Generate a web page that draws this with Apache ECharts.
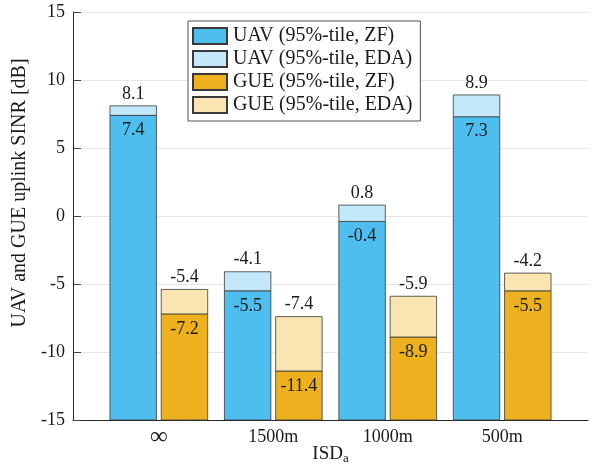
<!DOCTYPE html>
<html>
<head>
<meta charset="utf-8">
<script src="https://cdn.jsdelivr.net/npm/echarts@6/dist/echarts.min.js"></script>
<style>html,body{margin:0;padding:0;background:#fff}#c{width:593px;height:470px}</style>
</head>
<body>
<div id="c"></div>
<script>
const categories = ['\u221e', '1500m', '1000m', '500m'];
const uavZF  = [7.4, -5.5, -0.4, 7.3];
const uavEDA = [8.1, -4.1, 0.8, 8.9];
const gueZF  = [-7.2, -11.4, -8.9, -5.5];
const gueEDA = [-5.4, -7.4, -5.9, -4.2];
const yTicks = [-15, -10, -5, 0, 5, 10, 15];
const seriesNames = ['UAV (95%-tile, ZF)', 'UAV (95%-tile, EDA)', 'GUE (95%-tile, ZF)', 'GUE (95%-tile, EDA)'];

const FONT = "'Liberation Serif', 'Times New Roman', serif";
const yMin = yTicks[0], yMax = yTicks[yTicks.length - 1];

function makeRender(offset, labelAbove) {
  return function (params, api) {
    const x = api.value(0), lo = api.value(1), hi = api.value(2);
    const unit = api.size([1, 0])[0];
    const cx = api.coord([x + offset, 0])[0];
    const w = 0.406 * unit;
    const yTop = api.coord([x, hi])[1];
    const yBot = api.coord([x, lo])[1];
    return {
      type: 'group',
      children: [
        { type: 'rect', shape: { x: cx - w / 2, y: yTop, width: w, height: yBot - yTop },
          style: { fill: api.visual('color'), stroke: '#3a3a3a', lineWidth: 0.8 } },
        { type: 'text', z2: 10,
          style: { text: hi.toFixed(1), x: cx, y: labelAbove ? yTop - 12 : yTop + 15,
                   align: 'center', verticalAlign: 'middle', fontSize: 18, fontFamily: FONT, fill: '#1a1a1a' } }
      ]
    };
  };
}

function mk(name, color, lows, highs, offset, above) {
  return {
    name: name, type: 'custom', renderItem: makeRender(offset, above),
    itemStyle: { color: color, borderColor: '#3a3a3a', borderWidth: 0.8 },
    encode: { x: 0, y: [1, 2] },
    data: highs.map((v, i) => [i + 1, lows ? lows[i] : yMin, v]),
    clip: false
  };
}

const chart = echarts.init(document.getElementById('c'), null, { renderer: 'canvas' });
chart.setOption({
  animation: false,
  backgroundColor: '#fff',
  grid: { left: 73, right: 5, top: 12, bottom: 50, containLabel: false, outerBoundsMode: 'none' },
  legend: {
    orient: 'vertical', left: 188, top: 21,
    padding: [5, 8, 6, 4], itemGap: 3, itemWidth: 34, itemHeight: 16,
    icon: 'rect', backgroundColor: '#fff', borderColor: '#555', borderWidth: 1,
    textStyle: { fontFamily: FONT, fontSize: 20, color: '#1a1a1a', padding: [0, 0, 0, 1] },
    data: seriesNames
  },
  xAxis: {
    type: 'value', min: 0.25, max: 4.75, interval: 0.25,
    axisLine: { show: true, onZero: false, lineStyle: { color: '#262626', width: 1 } },
    axisTick: { show: false },
    splitLine: { show: false },
    axisLabel: { fontFamily: FONT, fontSize: 18, color: '#1a1a1a', margin: 8,
      rich: { inf: { fontFamily: FONT, fontSize: 25, color: '#1a1a1a', lineHeight: 18 } },
      formatter: v => {
        if (!(Math.abs(v - Math.round(v)) < 1e-9 && v >= 1 && v <= categories.length)) return '';
        const s = categories[Math.round(v) - 1];
        return s === '\u221e' ? '{inf|' + s + '}' : s;
      } },
    name: '{m|ISD}{s|a}', nameLocation: 'middle', nameGap: 23, nameMoveOverlap: false,
    nameTextStyle: { rich: {
      m: { fontFamily: FONT, fontSize: 19, color: '#1a1a1a' },
      s: { fontFamily: FONT, fontSize: 13, color: '#1a1a1a', padding: [9, 0, 0, 0] }
    } }
  },
  yAxis: {
    type: 'value', min: yMin, max: yMax, interval: 5,
    axisLine: { show: true, onZero: false, lineStyle: { color: '#262626', width: 1 } },
    axisTick: { show: true, inside: true, length: 8, lineStyle: { color: '#444' } },
    splitLine: { show: true, lineStyle: { color: '#e6e6e6', width: 1 } },
    axisLabel: { fontFamily: FONT, fontSize: 18, color: '#1a1a1a', margin: 8 },
    name: 'UAV and GUE uplink SINR [dB]', nameLocation: 'middle', nameGap: 33,
    nameTextStyle: { fontFamily: FONT, fontSize: 20, color: '#1a1a1a', padding: [0, 0, 0, 46] }
  },
  series: [
    mk(seriesNames[0], '#4DBEEE', null, uavZF, -0.224, false),
    mk(seriesNames[1], '#C2E8F9', uavZF, uavEDA, -0.224, true),
    mk(seriesNames[2], '#EDB120', null, gueZF, 0.224, false),
    mk(seriesNames[3], '#F9E4B2', gueZF, gueEDA, 0.224, true)
  ]
});
</script>
</body>
</html>
